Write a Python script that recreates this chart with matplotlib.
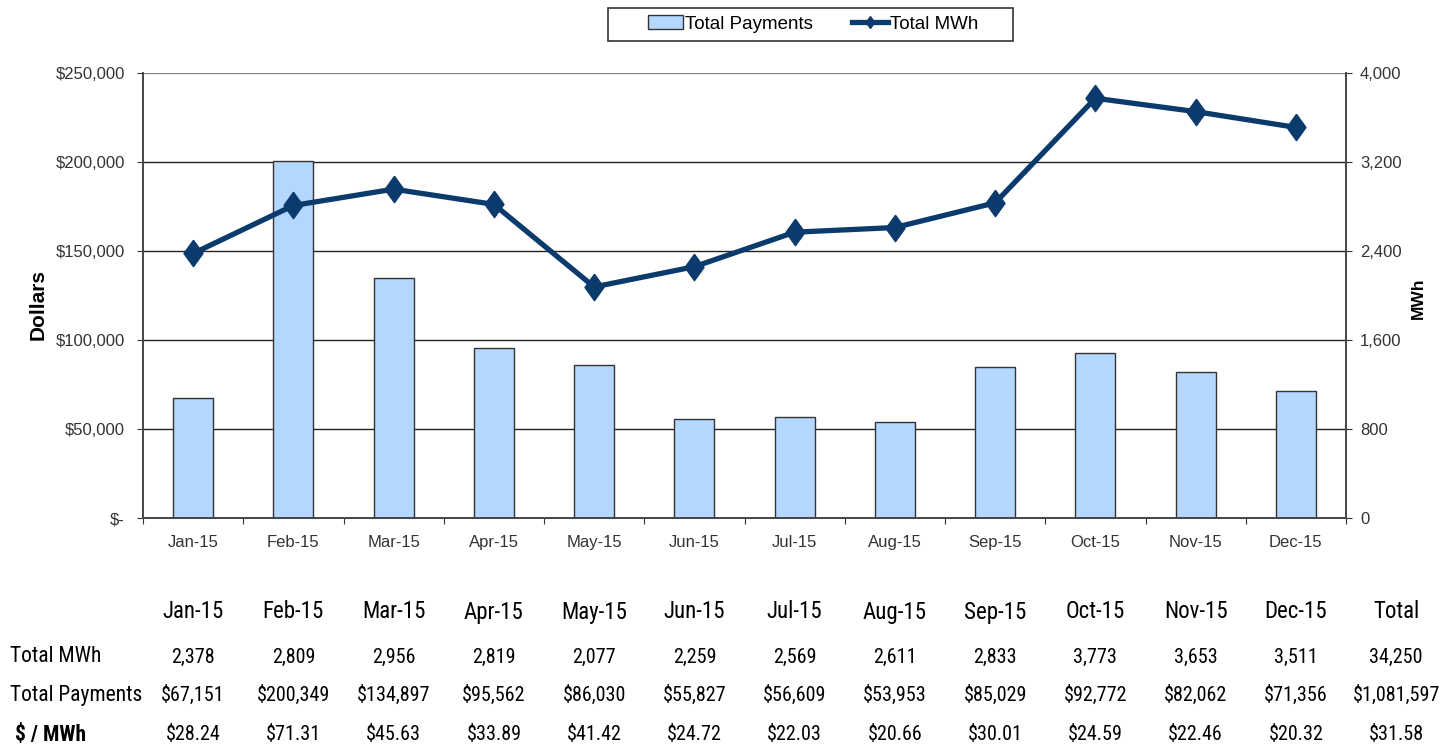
import matplotlib
matplotlib.use("Agg")
import matplotlib.pyplot as plt
import matplotlib.ticker as mticker
import matplotlib.transforms as mtransforms
from matplotlib.patches import Rectangle
import numpy as np

months = ["Jan-15", "Feb-15", "Mar-15", "Apr-15", "May-15", "Jun-15",
          "Jul-15", "Aug-15", "Sep-15", "Oct-15", "Nov-15", "Dec-15"]
total_mwh = [2378, 2809, 2956, 2819, 2077, 2259, 2569, 2611, 2833, 3773, 3653, 3511]
total_payments = [67151, 200349, 134897, 95562, 86030, 55827,
                  56609, 53953, 85029, 92772, 82062, 71356]
dollars_per_mwh = [28.24, 71.31, 45.63, 33.89, 41.42, 24.72,
                   22.03, 20.66, 30.01, 24.59, 22.46, 20.32]
total_label = "Total"
total_mwh_sum = 34250
total_payments_sum = 1081597
total_per_mwh = 31.58
row_labels = ["Total MWh", "Total Payments", " $ / MWh"]

BAR_COLOR = "#B3D7FF"
LINE_COLOR = "#0B3A6C"
TICK_COLOR = "#333333"
W, H = 1450, 753

plt.rcParams.update({
    "font.family": ["Liberation Sans", "DejaVu Sans"],
    "font.size": 10,
})

fig = plt.figure(figsize=(W / 100, H / 100), dpi=100)
ax = fig.add_axes([143 / W, 1 - 518 / H, (1346 - 143) / W, (518 - 73) / H])
ax2 = ax.twinx()

x = np.arange(len(months))
ax.bar(x, total_payments, width=0.4, color=BAR_COLOR, edgecolor="#333333",
       linewidth=1.0, zorder=2, label="Total Payments")
ax.set_xlim(-0.5, len(months) - 0.5)
ax.set_ylim(0, 250000)
ax.set_yticks(np.arange(0, 250001, 50000))
ax.yaxis.set_major_formatter(mticker.FuncFormatter(
    lambda v, _: "$-" if v == 0 else f"${v:,.0f}"))
for yv in np.arange(50000, 250001, 50000):
    ax.axhline(yv, color="#222222" if yv < 250000 else "#888888",
               linewidth=1.0, zorder=1)

# category boundary ticks, labels at centres
ax.set_xticks(np.arange(-0.5, len(months), 1.0))
ax.set_xticklabels([])
ax.set_xticks(x, minor=True)
ax.set_xticklabels(months, minor=True)
ax.tick_params(axis="x", which="major", direction="out", length=4, color="#333333")
ax.tick_params(axis="x", which="minor", length=0, pad=12, labelsize=12,
               labelcolor=TICK_COLOR)
ax.tick_params(axis="y", direction="out", length=4, color="#333333",
               labelsize=12, labelcolor=TICK_COLOR, pad=9)

ax.set_ylabel("Dollars", fontsize=15, fontweight="bold")
ax.yaxis.set_label_coords((38 - 143) / (1346 - 143), (518 - 305) / (518 - 73))
ax.yaxis.label.set_va("center")

diamond = [(0, 1), (0.72, 0), (0, -1), (-0.72, 0), (0, 1)]
ax2.plot(x, total_mwh, color=LINE_COLOR, linewidth=3.8, marker=diamond,
         markersize=19, zorder=3, label="Total MWh")
ax2.set_ylim(0, 4000)
ax2.set_yticks(np.arange(0, 4001, 800))
ax2.yaxis.set_major_formatter(mticker.FuncFormatter(lambda v, _: f"{v:,.0f}"))
ax2.tick_params(axis="y", direction="out", length=4, color="#333333",
                labelsize=12, labelcolor=TICK_COLOR, pad=6)
ax2.set_ylabel("MWh", fontsize=12.5, fontweight="bold", rotation=90)
ax2.yaxis.set_label_coords((1418 - 143) / (1346 - 143), (518 - 298) / (518 - 73))
ax2.yaxis.label.set_va("center")

for a in (ax, ax2):
    a.spines["top"].set_visible(False)
    for s in ("left", "right", "bottom"):
        a.spines[s].set_color("#444444")
        a.spines[s].set_linewidth(1.2)

# legend box drawn separately so it can be wider than its contents
fig.patches.append(Rectangle((608 / W, 1 - 41 / H), (1013 - 608) / W, 33 / H,
                             transform=fig.transFigure, facecolor="white",
                             edgecolor="#333333", linewidth=1.2))
h1, l1 = ax.get_legend_handles_labels()
h2, l2 = ax2.get_legend_handles_labels()
fig.legend(h1 + h2, l1 + l2, loc="center", bbox_to_anchor=(813 / W, 1 - 24 / H),
           ncol=2, fontsize=13.5, frameon=False, borderpad=0,
           handlelength=1.9, handletextpad=0.1, columnspacing=2.1,
           markerscale=0.45, borderaxespad=0)

# data table under the chart
narrow = ["Roboto Condensed", "Liberation Sans Narrow", "Liberation Sans"]
trans = mtransforms.blended_transform_factory(ax.transData, fig.transFigure)
cols = list(x) + [len(months)]
headers = months + [total_label]
mwh_row = [f"{v:,}" for v in total_mwh] + [f"{total_mwh_sum:,}"]
pay_row = [f"${v:,}" for v in total_payments] + [f"${total_payments_sum:,}"]
per_row = [f"${v:.2f}" for v in dollars_per_mwh] + [f"${total_per_mwh:.2f}"]

y_head = 1 - 612 / H
y_rows = [1 - 657 / H, 1 - 695 / H, 1 - 735 / H]
for c, h in zip(cols, headers):
    fig.text(c, y_head, h, transform=trans, ha="center", va="center",
             fontsize=16.5, family=narrow, clip_on=False)
for yr, vals in zip(y_rows, [mwh_row, pay_row, per_row]):
    for c, v in zip(cols, vals):
        fig.text(c, yr, v, transform=trans, ha="center", va="center",
                 fontsize=14.5, family=narrow, clip_on=False)
for yr, lab in zip(y_rows, row_labels):
    fig.text(10 / W, yr, lab, ha="left", va="center", fontsize=15.5,
             family=narrow, fontweight="bold" if lab.strip().startswith("$") else "normal")

fig.savefig("out.png", dpi=100)
